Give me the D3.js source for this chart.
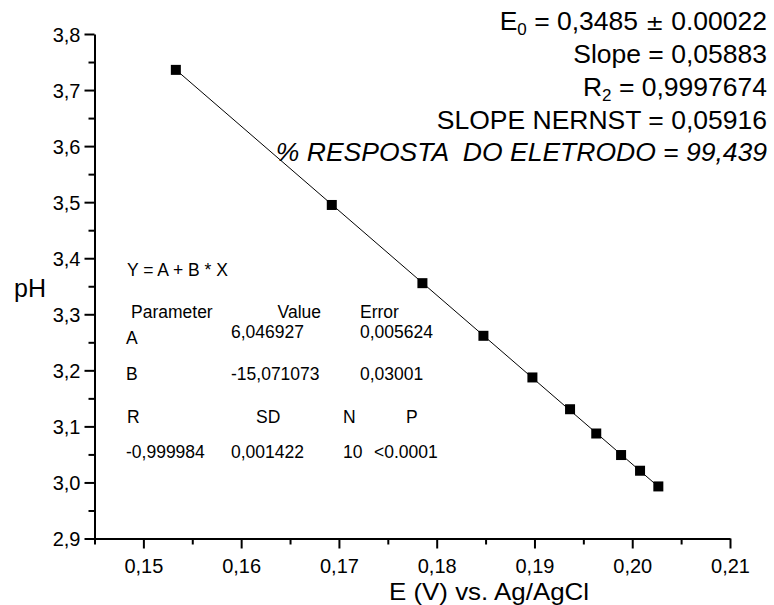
<!DOCTYPE html>
<html>
<head>
<meta charset="utf-8">
<script src="https://cdn.jsdelivr.net/npm/d3@7"></script>
<style>
  body { margin: 0; background: #fff; }
  svg { display: block; font-family: "Liberation Sans", Arial, sans-serif; }
  text { white-space: pre; }
</style>
</head>
<body>
<div id="chart"></div>
<script>
//measured points: potential vs pH
const potentials = [0.15332, 0.16927, 0.17854, 0.18478, 0.18979, 0.19364, 0.19632, 0.19886, 0.2008, 0.20267];
const phValues = [3.736, 3.495, 3.3555, 3.2616, 3.1873, 3.1306, 3.0873, 3.0489, 3.0209, 2.9929];

//linear fit Y = A + B * X
const fitA = 6.046927;
const fitB = -15.071073;

//axis ticks
const xMajorTicks = [0.15, 0.16, 0.17, 0.18, 0.19, 0.20, 0.21];
const xMinorTicks = [0.145, 0.155, 0.165, 0.175, 0.185, 0.195, 0.205];
const yMajorTicks = [2.9, 3.0, 3.1, 3.2, 3.3, 3.4, 3.5, 3.6, 3.7, 3.8];
const yMinorTicks = [2.95, 3.05, 3.15, 3.25, 3.35, 3.45, 3.55, 3.65, 3.75];

//fit results table (text only)
const fitEquation = 'Y = A + B * X';
const paramHeader = ['Parameter', 'Value', 'Error'];
const paramRowA = ['A', '6,046927', '0,005624'];
const paramRowB = ['B', '-15,071073', '0,03001'];
const statsHeader = ['R', 'SD', 'N', 'P'];
const statsRow = ['-0,999984', '0,001422', '10', '<0.0001'];

//annotation in the top right corner
const e0Value = '0,3485';
const e0Error = '0.00022';
const slopeValue = '0,05883';
const r2Value = '0,9997674';
const nernstSlope = '0,05916';
const electrodeResponse = '99,439';

const W = 774, H = 605;
const fmt = d => d3.format('.2f')(d).replace('.', ',');
const fmtY = d => d3.format('.1f')(d).replace('.', ',');

const svg = d3.select('#chart').append('svg')
    .attr('width', W)
    .attr('height', H);

const x = d3.scaleLinear().domain([0.145, 0.21]).range([94.5, 730]);
const y = d3.scaleLinear().domain([2.9, 3.8]).range([538.5, 34]);

//x axis, minor then major
const xMinorG = svg.append('g')
    .attr('transform', `translate(0,${y(2.9)})`)
    .call(d3.axisBottom(x).tickValues(xMinorTicks).tickSize(6).tickSizeOuter(0).tickFormat(''));
xMinorG.select('.domain').remove();

const xAxisG = svg.append('g')
    .attr('transform', `translate(0,${y(2.9)})`)
    .call(d3.axisBottom(x).tickValues(xMajorTicks).tickSize(10).tickSizeOuter(0).tickFormat(fmt));
xAxisG.selectAll('text')
    .attr('y', 34.5)
    .attr('dy', 0)
    .style('font-size', '20px');

//y axis
const yMinorG = svg.append('g')
    .attr('transform', `translate(${x(0.145)},0)`)
    .call(d3.axisLeft(y).tickValues(yMinorTicks).tickSize(6).tickSizeOuter(0).tickFormat(''));
yMinorG.select('.domain').remove();

const yAxisG = svg.append('g')
    .attr('transform', `translate(${x(0.145)},0)`)
    .call(d3.axisLeft(y).tickValues(yMajorTicks).tickSize(10).tickPadding(4).tickSizeOuter(0).tickFormat(fmtY));
yAxisG.selectAll('text')
    .attr('dy', '0.36em')
    .style('font-size', '20px');

svg.selectAll('.domain').attr('stroke-width', 2);
svg.selectAll('.tick line').attr('stroke-width', 2);
svg.selectAll('.tick text').attr('fill', '#000');

//axis titles
svg.append('text')
    .attr('x', 14)
    .attr('y', 297)
    .style('font-size', '25px')
    .text('pH');

svg.append('text')
    .attr('x', 489)
    .attr('y', 600)
    .attr('text-anchor', 'middle')
    .attr('textLength', 200)
    .attr('lengthAdjust', 'spacingAndGlyphs')
    .style('font-size', '24px')
    .text('E (V) vs. Ag/AgCl');

//fit line over the data range
const xFit = d3.extent(potentials);
svg.append('path')
    .attr('d', d3.line()(xFit.map(v => [x(v), y(fitA + fitB * v)])))
    .attr('stroke', '#000')
    .attr('stroke-width', 1)
    .attr('fill', 'none');

//square markers
const sz = 10;
svg.append('g').selectAll('rect')
    .data(potentials.map((v, i) => [v, phValues[i]]))
    .enter().append('rect')
    .attr('x', d => x(d[0]) - sz / 2)
    .attr('y', d => y(d[1]) - sz / 2)
    .attr('width', sz)
    .attr('height', sz)
    .attr('fill', '#000');

//fit table
const tbl = svg.append('g').style('font-size', '17.5px');
function putText(str, px, py, anchor) {
    tbl.append('text')
        .attr('x', px)
        .attr('y', py)
        .attr('text-anchor', anchor || 'start')
        .text(str);
}
putText(fitEquation, 127, 275.5);
putText(paramHeader[0], 131, 318);
putText(paramHeader[1], 321, 318, 'end');
putText(paramHeader[2], 360, 318);
putText(paramRowA[0], 126, 344);
putText(paramRowA[1], 231, 338);
putText(paramRowA[2], 360, 338);
putText(paramRowB[0], 126, 380);
putText(paramRowB[1], 231, 380);
putText(paramRowB[2], 360, 380);
putText(statsHeader[0], 127, 423);
putText(statsHeader[1], 256, 423);
putText(statsHeader[2], 343, 423);
putText(statsHeader[3], 406, 423);
putText(statsRow[0], 126, 458);
putText(statsRow[1], 231, 458);
putText(statsRow[2], 343, 458);
putText(statsRow[3], 374, 458);

//annotation block, right aligned
const ann = svg.append('g').attr('text-anchor', 'end').style('font-size', '26.5px');
const rightX = 767;

const e0 = ann.append('text').attr('x', rightX).attr('y', 30);
e0.append('tspan').text('E');
e0.append('tspan').attr('dy', 5).style('font-size', '17px').text('0');
e0.append('tspan').attr('dy', -5).text(' = ' + e0Value + ' ');
e0.append('tspan').style('font-family', '"DejaVu Sans", sans-serif').style('font-size', '22px').text('±');
e0.append('tspan').text(' ' + e0Error);

ann.append('text').attr('x', rightX).attr('y', 62.5).text('Slope = ' + slopeValue);

const r2 = ann.append('text').attr('x', rightX).attr('y', 96);
r2.append('tspan').text('R');
r2.append('tspan').attr('dy', 5).style('font-size', '17px').text('2');
r2.append('tspan').attr('dy', -5).text(' = ' + r2Value);

ann.append('text').attr('x', rightX).attr('y', 128.5).text('SLOPE NERNST = ' + nernstSlope);

ann.append('text').attr('x', rightX).attr('y', 160.5)
    .style('font-style', 'italic')
    .text('% RESPOSTA  DO ELETRODO = ' + electrodeResponse);
</script>
</body>
</html>
